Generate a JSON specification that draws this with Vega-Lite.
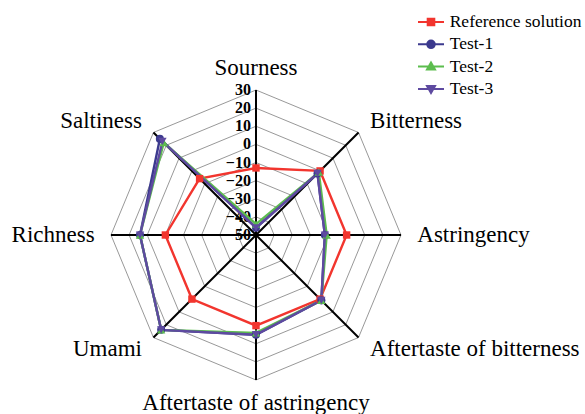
{
  "$schema": "https://vega.github.io/schema/vega-lite/v6.json",
  "width": 585,
  "height": 414,
  "padding": 0,
  "autosize": {"type": "none"},
  "background": "white",
  "config": {
    "view": {"stroke": null},
    "font": "Liberation Serif",
    "legend": {"labelFont": "Liberation Serif", "labelFontSize": 17.5, "labelColor": "black"}
  },
  "datasets": {
    "cats": [
      {"idx": 0, "name": "Sourness"},
      {"idx": 1, "name": "Bitterness"},
      {"idx": 2, "name": "Astringency"},
      {"idx": 3, "name": "Aftertaste of bitterness"},
      {"idx": 4, "name": "Aftertaste of astringency"},
      {"idx": 5, "name": "Umami"},
      {"idx": 6, "name": "Richness"},
      {"idx": 7, "name": "Saltiness"}
    ],
    "grid": [
      {"level": -40, "idx": [0, 1, 2, 3, 4, 5, 6, 7]},
      {"level": -30, "idx": [0, 1, 2, 3, 4, 5, 6, 7]},
      {"level": -20, "idx": [0, 1, 2, 3, 4, 5, 6, 7]},
      {"level": -10, "idx": [0, 1, 2, 3, 4, 5, 6, 7]},
      {"level": 0, "idx": [0, 1, 2, 3, 4, 5, 6, 7]},
      {"level": 10, "idx": [0, 1, 2, 3, 4, 5, 6, 7]},
      {"level": 20, "idx": [0, 1, 2, 3, 4, 5, 6, 7]},
      {"level": 30, "idx": [0, 1, 2, 3, 4, 5, 6, 7]}
    ],
    "ticks": [
      {"level": -50}, {"level": -40}, {"level": -30}, {"level": -20}, {"level": -10},
      {"level": 0}, {"level": 10}, {"level": 20}, {"level": 30}
    ],
    "scores": [
      {"series": "Reference solution", "idx": 0, "value": -13},
      {"series": "Reference solution", "idx": 1, "value": 0},
      {"series": "Reference solution", "idx": 2, "value": 0},
      {"series": "Reference solution", "idx": 3, "value": 0},
      {"series": "Reference solution", "idx": 4, "value": 0},
      {"series": "Reference solution", "idx": 5, "value": 0},
      {"series": "Reference solution", "idx": 6, "value": 0},
      {"series": "Reference solution", "idx": 7, "value": -6},
      {"series": "Test-1", "idx": 0, "value": -46},
      {"series": "Test-1", "idx": 1, "value": -2},
      {"series": "Test-1", "idx": 2, "value": -12},
      {"series": "Test-1", "idx": 3, "value": 1},
      {"series": "Test-1", "idx": 4, "value": 5},
      {"series": "Test-1", "idx": 5, "value": 24},
      {"series": "Test-1", "idx": 6, "value": 14},
      {"series": "Test-1", "idx": 7, "value": 25},
      {"series": "Test-2", "idx": 0, "value": -44},
      {"series": "Test-2", "idx": 1, "value": -1},
      {"series": "Test-2", "idx": 2, "value": -11},
      {"series": "Test-2", "idx": 3, "value": 1},
      {"series": "Test-2", "idx": 4, "value": 4},
      {"series": "Test-2", "idx": 5, "value": 24},
      {"series": "Test-2", "idx": 6, "value": 14},
      {"series": "Test-2", "idx": 7, "value": 22},
      {"series": "Test-3", "idx": 0, "value": -46},
      {"series": "Test-3", "idx": 1, "value": -2},
      {"series": "Test-3", "idx": 2, "value": -12},
      {"series": "Test-3", "idx": 3, "value": 1},
      {"series": "Test-3", "idx": 4, "value": 5},
      {"series": "Test-3", "idx": 5, "value": 24},
      {"series": "Test-3", "idx": 6, "value": 14},
      {"series": "Test-3", "idx": 7, "value": 23}
    ]
  },
  "layer": [
    {
      "data": {"name": "grid"},
      "transform": [
        {"flatten": ["idx"]},
        {"calculate": "(datum.level + 50) * sin(datum.idx * PI / 4)", "as": "px"},
        {"calculate": "(datum.level + 50) * cos(datum.idx * PI / 4)", "as": "py"}
      ],
      "mark": {"type": "line", "interpolate": "linear-closed", "stroke": "#8c8c8c", "strokeWidth": 0.9},
      "encoding": {
        "x": {"field": "px", "type": "quantitative", "scale": {"domain": [-141.24, 181.52], "nice": false, "zero": false}, "axis": null},
        "y": {"field": "py", "type": "quantitative", "scale": {"domain": [-98.76, 129.66], "nice": false, "zero": false}, "axis": null},
        "detail": {"field": "level", "type": "nominal"},
        "order": {"field": "idx", "type": "quantitative"}
      }
    },
    {
      "data": {"name": "cats"},
      "transform": [
        {"calculate": "80 * sin(datum.idx * PI / 4)", "as": "px"},
        {"calculate": "80 * cos(datum.idx * PI / 4)", "as": "py"}
      ],
      "mark": {"type": "rule", "stroke": "black", "strokeWidth": 2},
      "encoding": {
        "x": {"field": "px", "type": "quantitative"},
        "y": {"field": "py", "type": "quantitative"},
        "x2": {"datum": 0},
        "y2": {"datum": 0}
      }
    },
    {
      "data": {"name": "ticks"},
      "transform": [
        {"calculate": "0", "as": "px"},
        {"calculate": "datum.level + 50", "as": "py"}
      ],
      "mark": {"type": "text", "align": "right", "baseline": "middle", "dx": -5, "font": "Liberation Serif", "fontWeight": "bold", "fontSize": 16, "color": "black"},
      "encoding": {
        "x": {"field": "px", "type": "quantitative"},
        "y": {"field": "py", "type": "quantitative"},
        "text": {"field": "level", "type": "quantitative"}
      }
    },
    {
      "data": {"name": "scores"},
      "transform": [
        {"calculate": "(datum.value + 50) * sin(datum.idx * PI / 4)", "as": "px"},
        {"calculate": "(datum.value + 50) * cos(datum.idx * PI / 4)", "as": "py"}
      ],
      "mark": {"type": "line", "interpolate": "linear-closed", "strokeWidth": 2.4},
      "encoding": {
        "x": {"field": "px", "type": "quantitative"},
        "y": {"field": "py", "type": "quantitative"},
        "color": {"field": "series", "type": "nominal",
          "scale": {"domain": ["Reference solution", "Test-1", "Test-2", "Test-3"], "range": ["#f2352e", "#3c3a8e", "#5cbd4e", "#5e4aa0"]}},
        "order": {"field": "idx", "type": "quantitative"}
      }
    },
    {
      "data": {"name": "scores"},
      "transform": [
        {"filter": "datum.series === 'Reference solution'"},
        {"calculate": "(datum.value + 50) * sin(datum.idx * PI / 4)", "as": "px"},
        {"calculate": "(datum.value + 50) * cos(datum.idx * PI / 4)", "as": "py"}
      ],
      "mark": {"type": "point", "filled": true, "opacity": 1, "size": 55, "shape": "square", "color": "#f2352e"},
      "encoding": {
        "x": {"field": "px", "type": "quantitative"},
        "y": {"field": "py", "type": "quantitative"}
      }
    },
    {
      "data": {"name": "scores"},
      "transform": [
        {"filter": "datum.series === 'Test-1'"},
        {"calculate": "(datum.value + 50) * sin(datum.idx * PI / 4)", "as": "px"},
        {"calculate": "(datum.value + 50) * cos(datum.idx * PI / 4)", "as": "py"}
      ],
      "mark": {"type": "point", "filled": true, "opacity": 1, "size": 65, "shape": "circle", "color": "#3c3a8e"},
      "encoding": {
        "x": {"field": "px", "type": "quantitative"},
        "y": {"field": "py", "type": "quantitative"}
      }
    },
    {
      "data": {"name": "scores"},
      "transform": [
        {"filter": "datum.series === 'Test-2'"},
        {"calculate": "(datum.value + 50) * sin(datum.idx * PI / 4)", "as": "px"},
        {"calculate": "(datum.value + 50) * cos(datum.idx * PI / 4)", "as": "py"}
      ],
      "mark": {"type": "point", "filled": true, "opacity": 1, "size": 70, "shape": "triangle-up", "color": "#5cbd4e"},
      "encoding": {
        "x": {"field": "px", "type": "quantitative"},
        "y": {"field": "py", "type": "quantitative"}
      }
    },
    {
      "data": {"name": "scores"},
      "transform": [
        {"filter": "datum.series === 'Test-3'"},
        {"calculate": "(datum.value + 50) * sin(datum.idx * PI / 4)", "as": "px"},
        {"calculate": "(datum.value + 50) * cos(datum.idx * PI / 4)", "as": "py"}
      ],
      "mark": {"type": "point", "filled": true, "opacity": 1, "size": 70, "shape": "triangle-down", "color": "#5e4aa0"},
      "encoding": {
        "x": {"field": "px", "type": "quantitative"},
        "y": {"field": "py", "type": "quantitative"}
      }
    },
    {
      "data": {"name": "scores"},
      "transform": [
        {"filter": "datum.idx < 0"},
        {"calculate": "(datum.value + 50) * sin(datum.idx * PI / 4)", "as": "px"},
        {"calculate": "(datum.value + 50) * cos(datum.idx * PI / 4)", "as": "py"}
      ],
      "mark": {"type": "point", "filled": true, "opacity": 1, "size": 60},
      "encoding": {
        "x": {"field": "px", "type": "quantitative"},
        "y": {"field": "py", "type": "quantitative"},
        "color": {"field": "series", "type": "nominal",
          "scale": {"domain": ["Reference solution", "Test-1", "Test-2", "Test-3"], "range": ["#f2352e", "#3c3a8e", "#5cbd4e", "#5e4aa0"]},
          "legend": {"title": null, "orient": "none", "legendX": 420, "legendY": 11, "padding": 0,
            "labelFont": "Liberation Serif", "labelFontSize": 17.5, "labelColor": "black", "labelOffset": 7.7,
            "symbolSize": 400, "rowPadding": 2.3,
            "encoding": {"symbols": {
              "fill": {"value": {"expr": "scale('color', datum.value)"}},
              "stroke": {"value": {"expr": "scale('color', datum.value)"}},
              "strokeWidth": {"value": 2}
            }}}},
        "shape": {"field": "series", "type": "nominal",
          "scale": {"domain": ["Reference solution", "Test-1", "Test-2", "Test-3"],
            "range": ["M-1.3,0H1.3M-0.33,-0.33H0.33V0.33H-0.33Z", "M-1.3,0H1.3M0.38,0A0.38,0.38 0 1,1 -0.38,0A0.38,0.38 0 1,1 0.38,0Z", "M-1.3,0H1.3M0,-0.42L0.4,0.28L-0.4,0.28Z", "M-1.3,0H1.3M0,0.42L0.4,-0.28L-0.4,-0.28Z"]},
          "legend": {"title": null, "orient": "none", "legendX": 420, "legendY": 11, "padding": 0,
            "labelFont": "Liberation Serif", "labelFontSize": 17.5, "labelColor": "black", "labelOffset": 7.7,
            "symbolSize": 400, "rowPadding": 2.3,
            "encoding": {"symbols": {
              "fill": {"value": {"expr": "scale('color', datum.value)"}},
              "stroke": {"value": {"expr": "scale('color', datum.value)"}},
              "strokeWidth": {"value": 2}
            }}}}
      }
    },
    {
      "data": {"name": "cats"},
      "transform": [
        {"filter": "datum.idx >= 1 && datum.idx <= 3"},
        {"calculate": "89 * sin(datum.idx * PI / 4)", "as": "px"},
        {"calculate": "89 * cos(datum.idx * PI / 4)", "as": "py"}
      ],
      "mark": {"type": "text", "align": "left", "baseline": "middle", "font": "Liberation Serif", "fontSize": 23, "color": "black"},
      "encoding": {
        "x": {"field": "px", "type": "quantitative"},
        "y": {"field": "py", "type": "quantitative"},
        "text": {"field": "name", "type": "nominal"}
      }
    },
    {
      "data": {"name": "cats"},
      "transform": [
        {"filter": "datum.idx >= 5"},
        {"calculate": "89 * sin(datum.idx * PI / 4)", "as": "px"},
        {"calculate": "89 * cos(datum.idx * PI / 4)", "as": "py"}
      ],
      "mark": {"type": "text", "align": "right", "baseline": "middle", "font": "Liberation Serif", "fontSize": 23, "color": "black"},
      "encoding": {
        "x": {"field": "px", "type": "quantitative"},
        "y": {"field": "py", "type": "quantitative"},
        "text": {"field": "name", "type": "nominal"}
      }
    },
    {
      "data": {"name": "cats"},
      "transform": [
        {"filter": "datum.idx == 0"},
        {"calculate": "89 * sin(datum.idx * PI / 4)", "as": "px"},
        {"calculate": "89 * cos(datum.idx * PI / 4)", "as": "py"}
      ],
      "mark": {"type": "text", "align": "center", "baseline": "middle", "dy": -6, "font": "Liberation Serif", "fontSize": 23, "color": "black"},
      "encoding": {
        "x": {"field": "px", "type": "quantitative"},
        "y": {"field": "py", "type": "quantitative"},
        "text": {"field": "name", "type": "nominal"}
      }
    },
    {
      "data": {"name": "cats"},
      "transform": [
        {"filter": "datum.idx == 4"},
        {"calculate": "89 * sin(datum.idx * PI / 4)", "as": "px"},
        {"calculate": "89 * cos(datum.idx * PI / 4)", "as": "py"}
      ],
      "mark": {"type": "text", "align": "center", "baseline": "middle", "dy": 7, "font": "Liberation Serif", "fontSize": 23, "color": "black"},
      "encoding": {
        "x": {"field": "px", "type": "quantitative"},
        "y": {"field": "py", "type": "quantitative"},
        "text": {"field": "name", "type": "nominal"}
      }
    }
  ]
}
